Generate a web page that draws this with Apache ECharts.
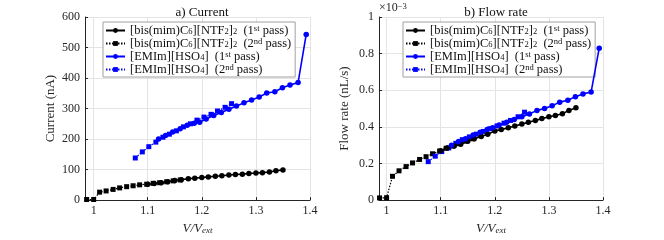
<!DOCTYPE html>
<html>
<head>
<meta charset="utf-8">
<script src="https://cdn.jsdelivr.net/npm/echarts@6/dist/echarts.min.js"></script>
<style>
html,body{margin:0;padding:0;background:#fff;}
#chart{width:664px;height:240px;}
</style>
</head>
<body>
<div id="chart"></div>
<script>
// ---- data ----
const xTicks = [1, 1.1, 1.2, 1.3, 1.4];
const currentTicks = [0, 100, 200, 300, 400, 500, 600];
const flowTicks = [0, 0.2, 0.4, 0.6, 0.8, 1];

const bisPass1V = [1.100,1.112,1.125,1.137,1.150,1.162,1.175,1.187,1.200,1.212,1.225,1.237,1.250,1.262,1.275,1.287,1.300,1.312,1.325,1.337,1.350];
const bisPass1Current = [52,54,57,60,64,67,70,72,74,76,78,80,82,84,85,87,89,90,92,96,99];
const bisPass1Flow = [0.270,0.285,0.295,0.305,0.322,0.335,0.348,0.360,0.378,0.385,0.395,0.405,0.415,0.425,0.435,0.445,0.455,0.462,0.472,0.490,0.505];

const bisPass2V = [0.987,1.000,1.011,1.023,1.036,1.048,1.061,1.073,1.085,1.098,1.110,1.122,1.135,1.147,1.160];
const bisPass2Current = [2,2,26,30,35,40,44,47,50,52,55,57,60,63,66];
const bisPass2Flow = [0.012,0.013,0.130,0.160,0.183,0.203,0.222,0.237,0.253,0.268,0.283,0.295,0.308,0.322,0.335];

const emiPass1V = [1.120,1.133,1.146,1.160,1.173,1.186,1.196,1.208,1.222,1.236,1.250,1.264,1.278,1.292,1.306,1.320,1.335,1.349,1.363,1.378,1.393];
const emiPass1Current = [200,212,223,234,245,252,255,266,277,287,298,308,319,328,338,351,355,368,377,385,543];
const emiPass1Flow = [0.300,0.320,0.335,0.355,0.370,0.385,0.395,0.410,0.425,0.440,0.455,0.470,0.490,0.500,0.515,0.535,0.545,0.565,0.580,0.590,0.830];

const emiPass2V = [1.077,1.090,1.102,1.115,1.128,1.140,1.153,1.166,1.179,1.191,1.204,1.217,1.229,1.243,1.255];
const emiPass2Current = [138,158,175,190,206,216,227,240,250,262,272,281,292,304,316];
const emiPass2Flow = [0.210,0.240,0.265,0.285,0.310,0.330,0.345,0.360,0.375,0.390,0.405,0.420,0.435,0.455,0.480];

const seriesNames = [
  '[bis(mim)C6][NTF2]2 (1st pass)',
  '[bis(mim)C6][NTF2]2 (2nd pass)',
  '[EMIm][HSO4] (1st pass)',
  '[EMIm][HSO4] (2nd pass)'
];
const legendRich = {};
legendRich[seriesNames[0]] = '[bis(mim)C{sub|6}][NTF{sub|2}]{sub|2}  (1{sup|st} pass)';
legendRich[seriesNames[1]] = '[bis(mim)C{sub|6}][NTF{sub|2}]{sub|2}  (2{sup|nd} pass)';
legendRich[seriesNames[2]] = '[EMIm][HSO{sub|4}]  (1{sup|st} pass)';
legendRich[seriesNames[3]] = '[EMIm][HSO{sub|4}]  (2{sup|nd} pass)';

// ---- chart ----
const FONT = 'Liberation Serif';
const AX = '#262626';
const zip = (xs, ys) => xs.map((x, i) => [x, ys[i]]);

function mkLegend(left, top) {
  return {
    orient: 'vertical', left: left, top: top,
    padding: [2, 4, 1, 2], itemGap: 0, itemWidth: 19, itemHeight: 6,
    borderColor: '#a0a0a0', borderWidth: 1, backgroundColor: '#fff',
    data: seriesNames,
    formatter: n => legendRich[n],
    textStyle: {
      fontFamily: FONT, fontSize: 12.5, color: '#111', lineHeight: 12,
      rich: {
        sub: {fontFamily: FONT, fontSize: 8.5, lineHeight: 5, verticalAlign: 'bottom', color: '#111'},
        sup: {fontFamily: FONT, fontSize: 8.5, lineHeight: 5, verticalAlign: 'top', color: '#111'}
      }
    }
  };
}

function mkX(idx, min) {
  return {
    type: 'value', gridIndex: idx, min: min, max: 1.4,
    name: '{i|V/V}{s|ext}', nameLocation: 'middle', nameGap: 16,
    nameTextStyle: {
      rich: {
        i: {fontFamily: FONT, fontStyle: 'italic', fontSize: 13, color: AX},
        s: {fontFamily: FONT, fontStyle: 'italic', fontSize: 9, color: AX, verticalAlign: 'bottom', lineHeight: 8}
      }
    },
    axisLine: {show: true, onZero: false, lineStyle: {color: AX, width: 1}},
    axisTick: {show: true, inside: true, length: 3, customValues: xTicks, lineStyle: {color: AX}},
    axisLabel: {customValues: xTicks, fontFamily: FONT, fontSize: 12, color: AX, margin: 5,
      formatter: v => String(Math.round(v * 10) / 10)},
    splitLine: {show: true, lineStyle: {color: '#e4e4e4', width: 1}}
  };
}

function mkY(idx, max, interval, name, gap, fmt) {
  return {
    type: 'value', gridIndex: idx, min: 0, max: max, interval: interval,
    name: name, nameLocation: 'middle', nameGap: gap,
    nameTextStyle: {fontFamily: FONT, fontSize: 13, color: AX},
    axisLine: {show: true, lineStyle: {color: AX, width: 1}},
    axisTick: {show: true, inside: true, length: 3, lineStyle: {color: AX}},
    axisLabel: {fontFamily: FONT, fontSize: 12, color: AX, margin: 5, formatter: fmt},
    splitLine: {show: true, lineStyle: {color: '#e4e4e4', width: 1}}
  };
}

function mkSeries(name, xi, data, color, symbol, dotted) {
  return {
    name: name, type: 'line', xAxisIndex: xi, yAxisIndex: xi,
    data: data, symbol: symbol, symbolSize: symbol === 'circle' ? 5.5 : 5,
    showSymbol: true, animation: false,
    itemStyle: {color: color},
    lineStyle: {color: color, width: dotted ? 1.2 : 1.6, type: dotted ? [1.5, 1.5] : 'solid'},
    z: dotted ? 3 : 4
  };
}

const chart = echarts.init(document.getElementById('chart'), null, {renderer: 'canvas'});
chart.setOption({
  animation: false,
  backgroundColor: '#fff',
  title: [
    {text: 'a) Current', left: 197, top: 1, textAlign: 'center',
     textStyle: {fontFamily: FONT, fontSize: 13, fontWeight: 'normal', color: '#111'}},
    {text: 'b) Flow rate', left: 491, top: 1, textAlign: 'center',
     textStyle: {fontFamily: FONT, fontSize: 13, fontWeight: 'normal', color: '#111'}}
  ],
  graphic: [
    {type: 'text', left: 379, top: 2,
     style: {text: '×10{sup|−3}', fontFamily: FONT, fontSize: 12, fill: AX,
       rich: {sup: {fontFamily: FONT, fontSize: 8.5, verticalAlign: 'top', lineHeight: 8, fill: AX}}}}
  ],
  legend: [mkLegend(103, 22), mkLegend(403, 22)],
  grid: [
    {left: 85, right: 354, top: 17, bottom: 33, containLabel: false},
    {left: 379, right: 61, top: 17, bottom: 33, containLabel: false}
  ],
  xAxis: [mkX(0, 0.984), mkX(1, 0.986)],
  yAxis: [
    mkY(0, 600, 100, 'Current (nA)', 28, v => String(v)),
    mkY(1, 1, 0.2, 'Flow rate (nL/s)', 28, v => String(Math.round(v * 10) / 10))
  ],
  series: [
    mkSeries(seriesNames[0], 0, zip(bisPass1V, bisPass1Current), '#000', 'circle', false),
    mkSeries(seriesNames[1], 0, zip(bisPass2V, bisPass2Current), '#000', 'rect', true),
    mkSeries(seriesNames[2], 0, zip(emiPass1V, emiPass1Current), '#0000ff', 'circle', false),
    mkSeries(seriesNames[3], 0, zip(emiPass2V, emiPass2Current), '#0000ff', 'rect', true),
    mkSeries(seriesNames[0], 1, zip(bisPass1V, bisPass1Flow), '#000', 'circle', false),
    mkSeries(seriesNames[1], 1, zip(bisPass2V, bisPass2Flow), '#000', 'rect', true),
    mkSeries(seriesNames[2], 1, zip(emiPass1V, emiPass1Flow), '#0000ff', 'circle', false),
    mkSeries(seriesNames[3], 1, zip(emiPass2V, emiPass2Flow), '#0000ff', 'rect', true)
  ]
});
</script>
</body>
</html>
